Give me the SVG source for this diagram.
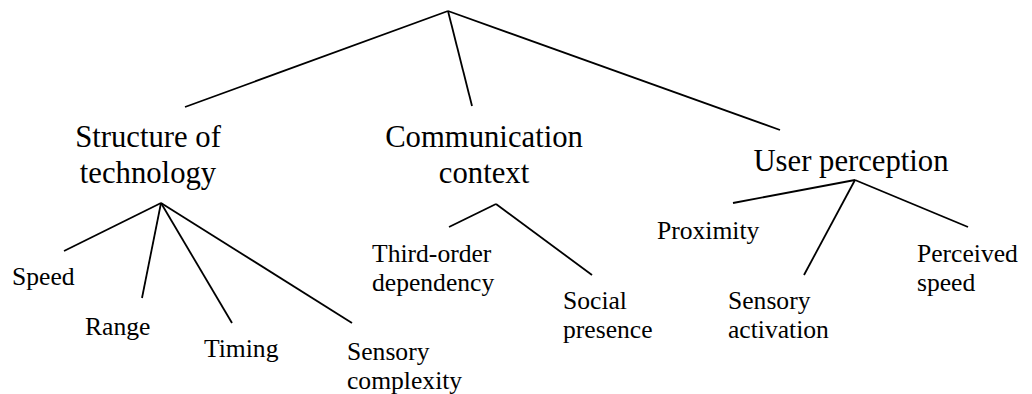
<svg xmlns="http://www.w3.org/2000/svg" width="1032" height="394" viewBox="0 0 1032 394">
<style>
.edge{stroke:#000;stroke-width:1.8;fill:none;stroke-linecap:butt}
text{font-family:"Liberation Serif","Times New Roman",serif;fill:#000}
.main{font-size:30.7px;text-anchor:middle}
.sub{font-size:25.6px}
</style>
<rect width="1032" height="394" fill="#fff"/>
<g id="connectors">
<line class="edge" x1="448" y1="11" x2="185" y2="107"/>
<line class="edge" x1="448" y1="11" x2="472" y2="106"/>
<line class="edge" x1="448" y1="11" x2="780" y2="130"/>
<line class="edge" x1="161" y1="203" x2="64" y2="251"/>
<line class="edge" x1="161" y1="203" x2="142" y2="298"/>
<line class="edge" x1="161" y1="203" x2="232" y2="323"/>
<line class="edge" x1="161" y1="203" x2="352" y2="323"/>
<line class="edge" x1="496" y1="204" x2="449" y2="227"/>
<line class="edge" x1="496" y1="204" x2="592" y2="275"/>
<line class="edge" x1="855" y1="180" x2="733" y2="203"/>
<line class="edge" x1="855" y1="180" x2="804" y2="275"/>
<line class="edge" x1="855" y1="180" x2="968" y2="227"/>
</g>
<g id="structure"><text class="main" x="148" y="147">Structure of</text><text class="main" x="148" y="183">technology</text></g>
<g id="communication"><text class="main" x="484" y="147">Communication</text><text class="main" x="484" y="183">context</text></g>
<g id="user"><text class="main" x="851" y="171">User perception</text></g>
<g id="speed"><text class="sub" x="12" y="285">Speed</text></g>
<g id="range"><text class="sub" x="85" y="335">Range</text></g>
<g id="timing"><text class="sub" x="204" y="357">Timing</text></g>
<g id="sensory-complexity"><text class="sub" x="347" y="360">Sensory</text><text class="sub" x="347" y="389">complexity</text></g>
<g id="third-order"><text class="sub" x="372" y="262">Third-order</text><text class="sub" x="372" y="291">dependency</text></g>
<g id="social"><text class="sub" x="563" y="309">Social</text><text class="sub" x="563" y="338">presence</text></g>
<g id="proximity"><text class="sub" x="657" y="239">Proximity</text></g>
<g id="sensory-activation"><text class="sub" x="728" y="309">Sensory</text><text class="sub" x="728" y="338">activation</text></g>
<g id="perceived"><text class="sub" x="917" y="262">Perceived</text><text class="sub" x="917" y="291">speed</text></g>
</svg>
